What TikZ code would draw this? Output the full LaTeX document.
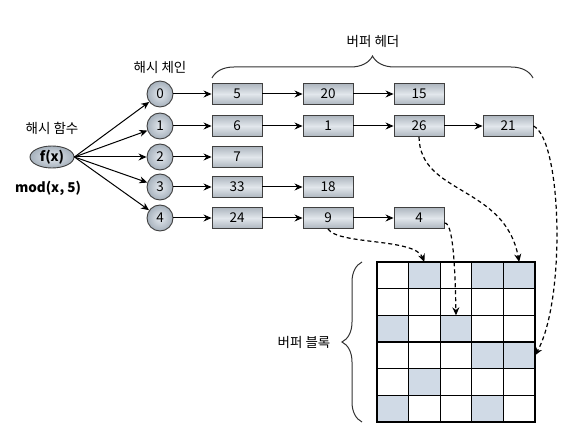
\documentclass[tikz,border=0pt]{standalone}
\usepackage{fontspec}
\setmainfont{Noto Sans CJK KR}
\usetikzlibrary{shapes.geometric,decorations.pathreplacing,arrows.meta}

\definecolor{boxgray}{HTML}{ADB6BF}
\definecolor{boxlight}{HTML}{E2E7EC}
\definecolor{ballin}{HTML}{E4E9EF}
\definecolor{ballout}{HTML}{A6B1BC}
\definecolor{cellblue}{HTML}{D0DAE6}

\tikzstyle{bufbox} = [rectangle, draw=black!75, line width=0.9pt, minimum width=50pt, minimum height=21pt, inner sep=0pt, top color=boxgray, bottom color=boxgray, middle color=boxlight]
\tikzstyle{chainnode} = [circle, draw=black!75, line width=0.9pt, minimum size=26pt, inner sep=0pt, inner color=ballin, outer color=ballout]
\tikzstyle{hashnode} = [ellipse, draw=black!75, line width=0.9pt, minimum width=44pt, minimum height=22pt, inner sep=0pt, inner color=ballin, outer color=ballout]
\tikzstyle{cell} = [rectangle, draw, line width=1.3pt, minimum width=31.6pt, minimum height=26.67pt, inner sep=0pt, outer sep=0pt]
\tikzstyle{arrow} = [line width=1pt,->,>={Stealth[length=8pt,width=7pt]}]
\tikzstyle{dasharrow} = [line width=1.2pt, dash pattern=on 4pt off 3pt, ->, >={Stealth[length=8pt,width=7pt]}]
\tikzstyle{bracestyle} = [line width=1pt, black!80, decorate]

\begin{document}
\begin{tikzpicture}[x=1pt, y=-1pt, font=\fontsize{13.5}{16}\selectfont]
    \useasboundingbox (0,0) rectangle (579,433);

    % Nodes
    \node(hash) [hashnode] at (52,157) {\bfseries f(x)};
    \foreach \i/\y in {0/94,1/126,2/157,3/187,4/218}
        \node(c\i) [chainnode] at (160,\y) {\i};

    \node(b5) [bufbox] at (237,94) {5};
    \node(b20) [bufbox] at (328,94) {20};
    \node(b15) [bufbox] at (419,94) {15};
    \node(b6) [bufbox] at (237,126) {6};
    \node(b1) [bufbox] at (328,126) {1};
    \node(b26) [bufbox] at (419,126) {26};
    \node(b21) [bufbox] at (508,126) {21};
    \node(b7) [bufbox] at (237,157) {7};
    \node(b33) [bufbox] at (237,187) {33};
    \node(b18) [bufbox] at (328,187) {18};
    \node(b24) [bufbox] at (237,218) {24};
    \node(b9) [bufbox] at (328,218) {9};
    \node(b4) [bufbox] at (419,218) {4};

    % Buffer blocks
    \foreach \r in {0,...,5}
        \foreach \c in {0,...,4}
            \node(cell\r\c) [cell] at ({377+31.6*(\c+0.5)},{262+26.67*(\r+0.5)}) {};
    \foreach \r/\c in {0/1,0/3,0/4,2/0,2/2,3/3,3/4,4/1,5/0,5/3}
        \node [cell, fill=cellblue] at (cell\r\c) {};

    % Arrows
    \foreach \i in {0,...,4}
        \draw [arrow] (hash.east) -- (c\i);
    \draw [arrow] (c0) -- (b5);
    \draw [arrow] (c1) -- (b6);
    \draw [arrow] (c2) -- (b7);
    \draw [arrow] (c3) -- (b33);
    \draw [arrow] (c4) -- (b24);
    \draw [arrow] (b5) -- (b20);
    \draw [arrow] (b20) -- (b15);
    \draw [arrow] (b6) -- (b1);
    \draw [arrow] (b1) -- (b26);
    \draw [arrow] (b26) -- (b21);
    \draw [arrow] (b33) -- (b18);
    \draw [arrow] (b24) -- (b9);
    \draw [arrow] (b9) -- (b4);

    % Dashed pointers
    \draw [dasharrow] (b9.south) .. controls (338,245) and (415,238) .. (cell01.north);
    \draw [dasharrow] ([yshift=-5pt]b4.east) .. controls (453,222) and (455,265) .. (cell22.north);
    \draw [dasharrow] (b26.south) .. controls (420,195) and (505,185) .. (cell04.north);
    \draw [dasharrow] (b21.east) .. controls (562,140) and (566,300) .. (cell34.east);

    % Braces
    \draw [bracestyle, decoration={brace, amplitude=22pt}] (212,78) -- (533,78);
    \draw [bracestyle, decoration={brace, amplitude=20pt}] (362,422) -- (362,262);

    % Labels
    \node(hashlbl) at (52,128) {해시 함수};
    \node(modlbl) at (48,188) {\bfseries mod(x, 5)};
    \node(chainlbl) at (160,67) {해시 체인};
    \node(headlbl) at (373,41) {버퍼 헤더};
    \node(blocklbl) at (304,342) {버퍼 블록};

\end{tikzpicture}
\end{document}
